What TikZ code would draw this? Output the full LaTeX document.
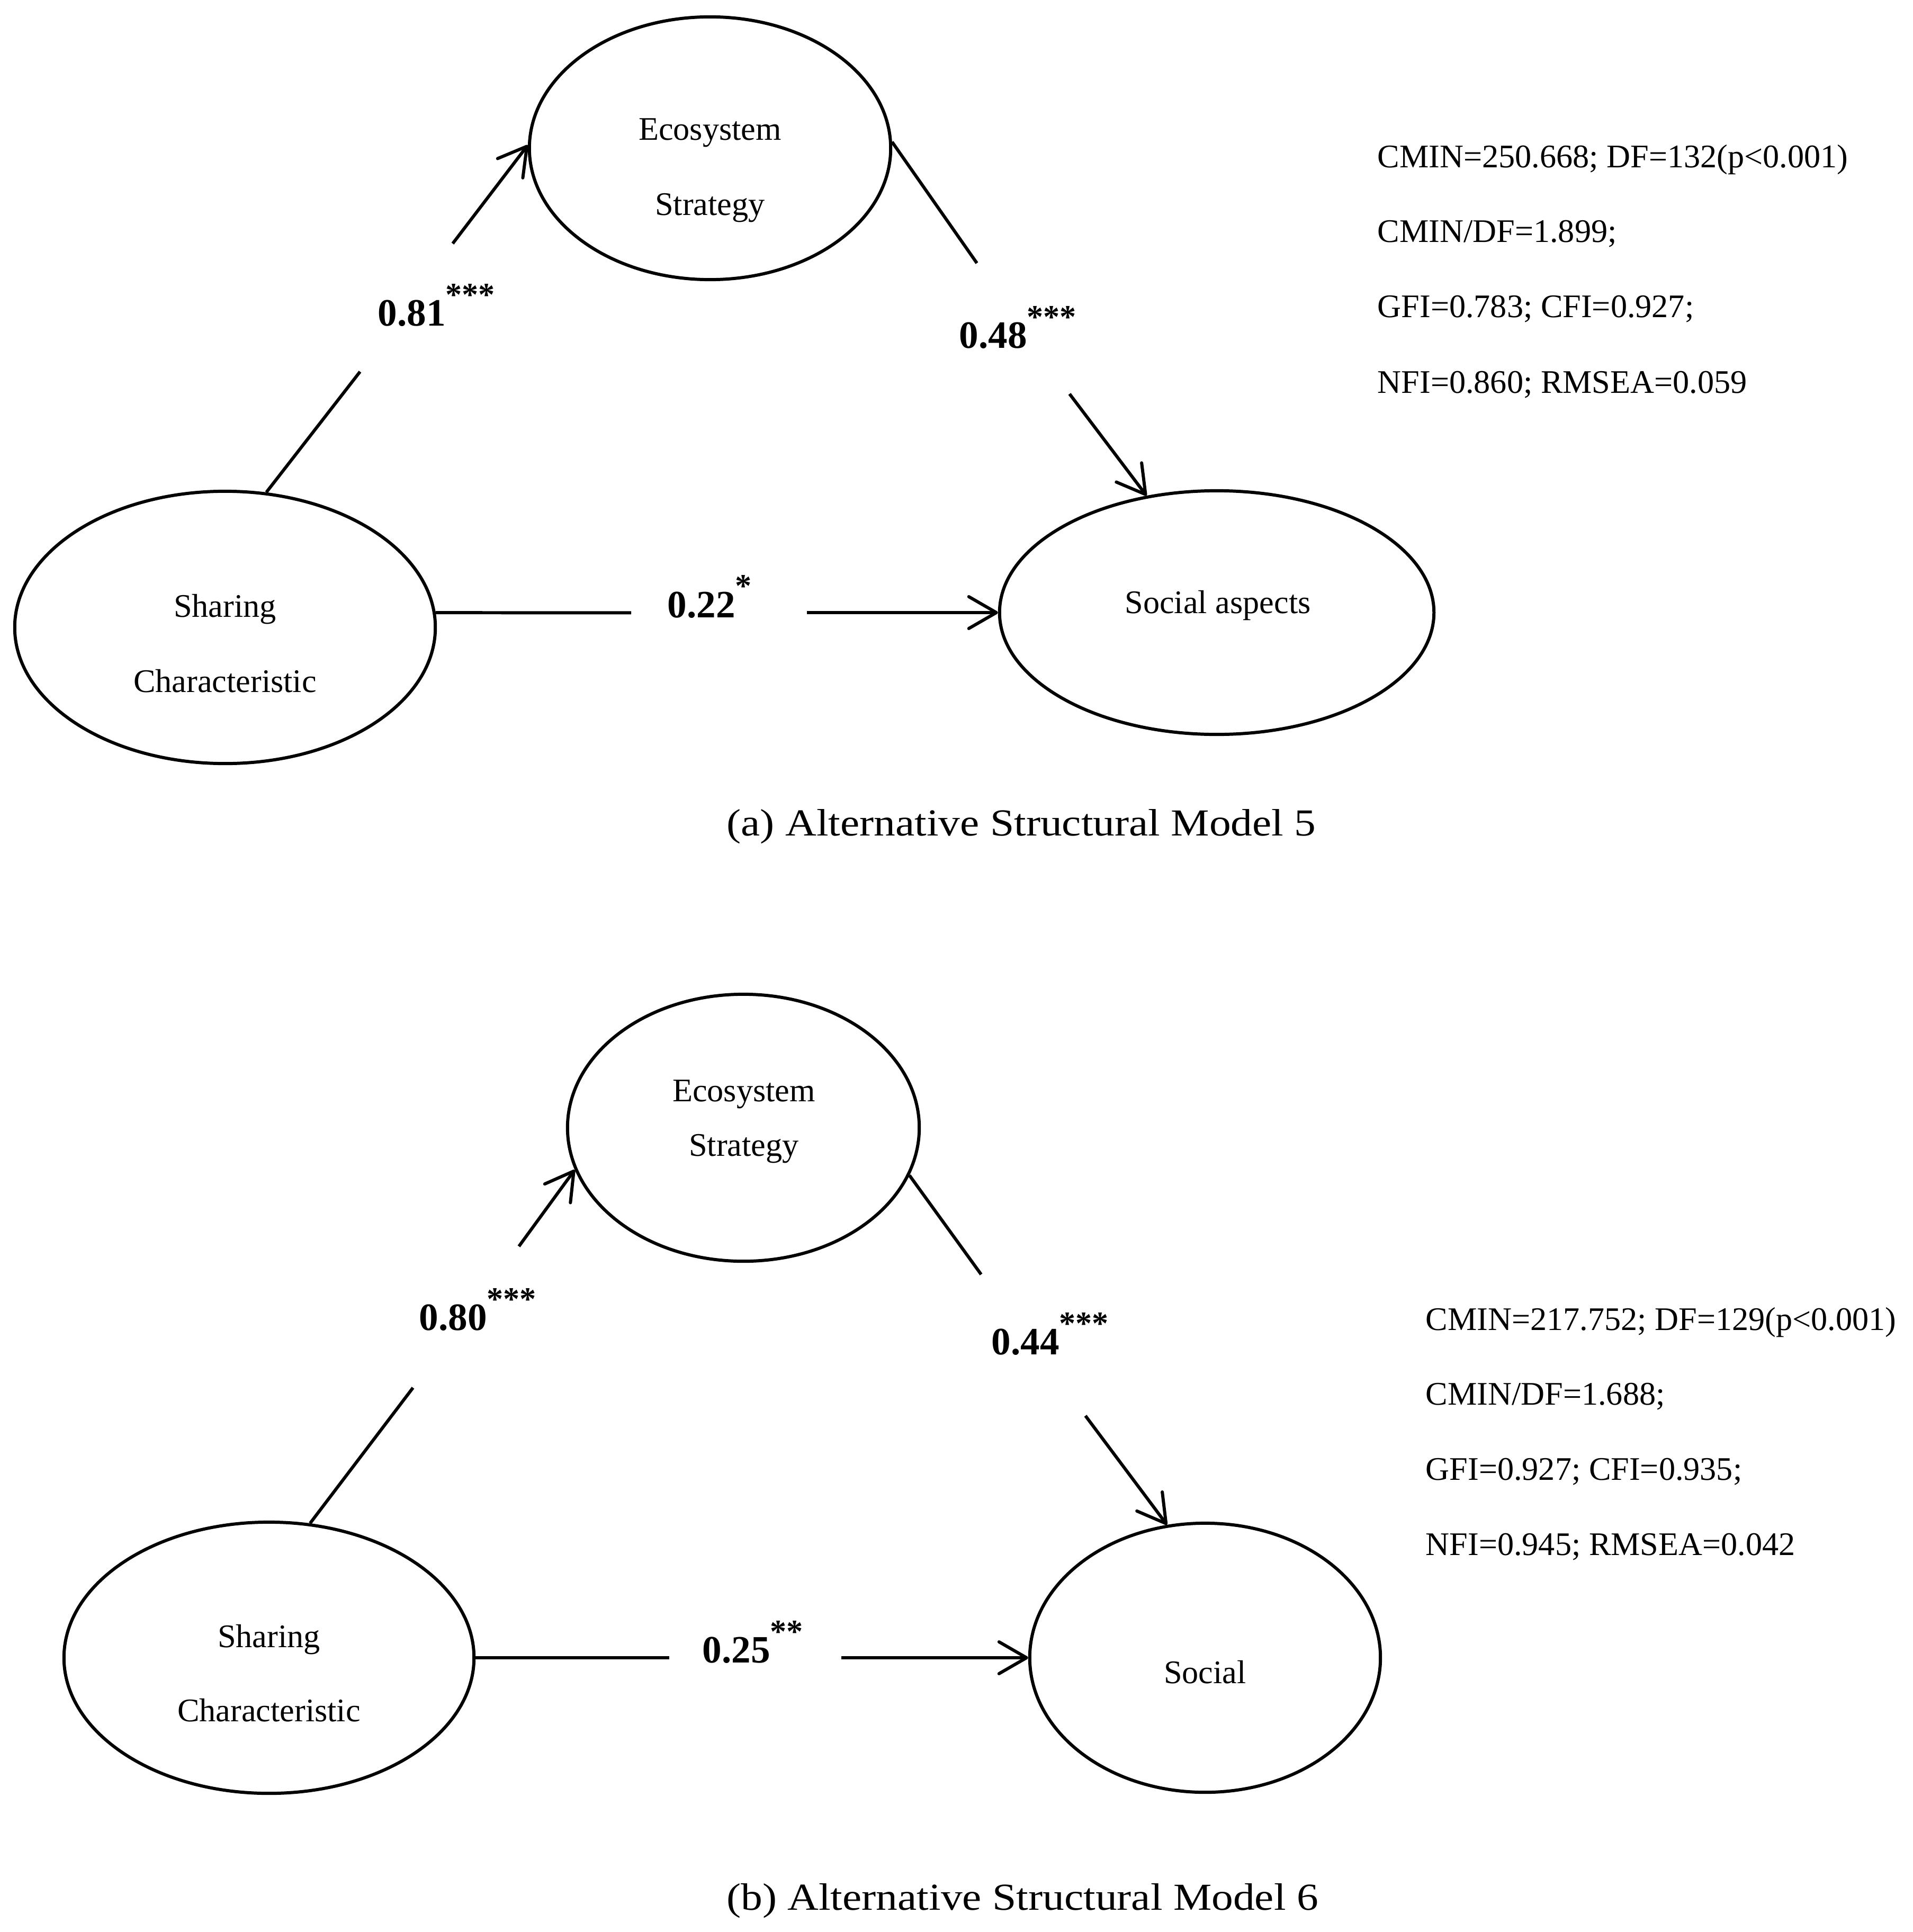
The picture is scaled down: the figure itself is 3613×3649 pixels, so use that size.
\documentclass[tikz,border=0pt]{standalone}
\usepackage{fontspec}
\setmainfont{Liberation Serif}
\newfontfamily\capfamily[FakeStretch=1.13]{Liberation Serif}
\usetikzlibrary{arrows.meta,shapes.geometric}
\newcommand{\nodefnt}{\fontsize{17.7pt}{20pt}\selectfont}
\newcommand{\coeffnt}{\fontsize{20.8pt}{24pt}\selectfont\bfseries}
\newcommand{\capfnt}{\capfamily\fontsize{20.5pt}{24pt}\selectfont}
\newcommand{\sigstars}[1]{\raisebox{0.38cm}{\nodefnt #1}}
\begin{document}
\begin{tikzpicture}[x=0.01cm, y=-0.01cm,
  latent/.style={draw, ellipse, line width=1.7pt, inner sep=0pt},
  conn/.style={line width=1.7pt},
  arr/.style={line width=1.7pt, -{Straight Barb[length=0.52cm, width=0.6cm, round]}},
  nodetxt/.style={font=\nodefnt, inner sep=0pt, anchor=base},
  coef/.style={font=\coeffnt, inner sep=0pt, anchor=base west},
  stat/.style={font=\nodefnt, inner sep=0pt, anchor=base west},
  capt/.style={font=\capfnt, inner sep=0pt, anchor=base}]
\useasboundingbox (0,0) rectangle (3613,3649);

% ---------- panel (a) ----------
\node[latent, minimum width=6.82cm, minimum height=4.96cm] (es1) at (1341,280) {};
\node[latent, minimum width=7.94cm, minimum height=5.14cm] (sc1) at (425,1185) {};
\node[latent, minimum width=8.20cm, minimum height=4.60cm] (sa1) at (2298,1157) {};

\node[nodetxt] (es1t1) at (1341,265) {Ecosystem};
\node[nodetxt] (es1t2) at (1341,407) {Strategy};
\node[nodetxt] (sc1t1) at (425,1165) {Sharing};
\node[nodetxt] (sc1t2) at (425,1307) {Characteristic};
\node[nodetxt] (sa1t) at (2300,1158) {Social aspects};

\node[coef] (c81) at (713,616) {0.81\sigstars{***}};
\node[coef] (c48) at (1811,658) {0.48\sigstars{***}};
\node[coef] (c22) at (1260,1166) {0.22\sigstars{*}};

\coordinate (a1) at (680,702);
\coordinate (a2) at (855,460);
\coordinate (b1) at (1845,497);
\coordinate (b2) at (2020,744);
\coordinate (h1) at (1192,1157.4);
\coordinate (h2) at (1524,1157);

\draw[conn] (sc1.4) -- (h1);
\draw[arr] (h2) -- (sa1.180);
\draw[conn] (sc1.73) -- (a1);
\draw[arr] (a2) -- (es1.179);
\draw[conn] (es1.2) -- (b1);
\draw[arr] (b2) -- (sa1.121);

\node[stat] (s1a) at (2601,317) {CMIN=250.668; DF=132(p<0.001)};
\node[stat] (s1b) at (2601,458) {CMIN/DF=1.899;};
\node[stat] (s1c) at (2601,600) {GFI=0.783; CFI=0.927;};
\node[stat] (s1d) at (2601,742) {NFI=0.860; RMSEA=0.059};

\node[capt] (cap1) at (1929,1578) {(a) Alternative Structural Model 5};

% ---------- panel (b) ----------
\node[latent, minimum width=6.64cm, minimum height=5.04cm] (es2) at (1404,2130) {};
\node[latent, minimum width=7.74cm, minimum height=5.12cm] (sc2) at (508,3131) {};
\node[latent, minimum width=6.62cm, minimum height=5.08cm] (sa2) at (2276,3131) {};

\node[nodetxt] (es2t1) at (1405,2080) {Ecosystem};
\node[nodetxt] (es2t2) at (1405,2183) {Strategy};
\node[nodetxt] (sc2t1) at (508,3111) {Sharing};
\node[nodetxt] (sc2t2) at (508,3251) {Characteristic};
\node[nodetxt] (sa2t) at (2276,3179) {Social};

\node[coef] (c80) at (791,2512) {0.80\sigstars{***}};
\node[coef] (c44) at (1872,2558) {0.44\sigstars{***}};
\node[coef] (c25) at (1326,3140) {0.25\sigstars{**}};

\coordinate (d1) at (780,2621);
\coordinate (d2) at (980,2354);
\coordinate (e1) at (1853,2407);
\coordinate (e2) at (2050,2674);
\coordinate (k1) at (1264,3131);
\coordinate (k2) at (1589,3131);

\draw[conn] (sc2.73) -- (d1);
\draw[arr] (d2) -- (es2.194);
\draw[conn] (es2.344) -- (e1);
\draw[arr] (e2) -- (sa2.106);
\draw[conn] (sc2.0) -- (k1);
\draw[arr] (k2) -- (sa2.180);

\node[stat] (s2a) at (2692,2512) {CMIN=217.752; DF=129(p<0.001)};
\node[stat] (s2b) at (2692,2653) {CMIN/DF=1.688;};
\node[stat] (s2c) at (2692,2795) {GFI=0.927; CFI=0.935;};
\node[stat] (s2d) at (2692,2937) {NFI=0.945; RMSEA=0.042};

\node[capt] (cap2) at (1931,3607) {(b) Alternative Structural Model 6};
\end{tikzpicture}
\end{document}
